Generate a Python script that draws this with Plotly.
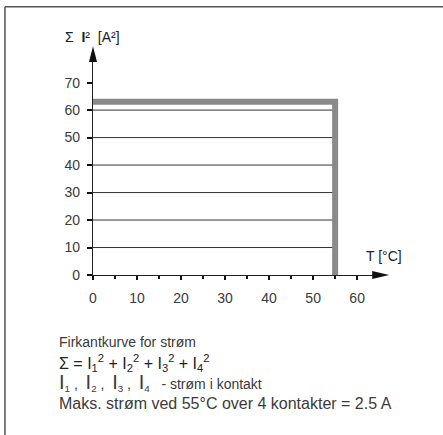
import plotly.graph_objects as go

# ---- data ----
curve_T = [0, 55, 55]          # temperature [°C]
curve_I2 = [63, 63, 0]         # Σ I² [A²]
grid_levels = [10, 20, 30, 40, 50, 60]
grid_end_T = 55
x_ticks = [0, 10, 20, 30, 40, 50, 60]
y_ticks = [0, 10, 20, 30, 40, 50, 60, 70]
x_axis_title = "T [°C]"
y_axis_title = "Σ  <b>I</b>²  [A²]"
BIG_I = '<span style="font-size:20px">I</span>'
notes = [
    "Firkantkurve for strøm",
    "Σ = I<sub>1</sub><sup>2</sup> + I<sub>2</sub><sup>2</sup> + I<sub>3</sub><sup>2</sup> + I<sub>4</sub><sup>2</sup>",
    f"{BIG_I}<sub>1</sub> ,  {BIG_I}<sub>2</sub> ,  {BIG_I}<sub>3</sub> ,  {BIG_I}<sub>4</sub>   - strøm i kontakt",
    "Maks. strøm ved 55°C over 4 kontakter = 2.5 A",
]

# ---- layout geometry (pixels) ----
FW, FH = 443, 435
L, B = 93, 160
XMAX, YMAX = 63.6, 77.5
PX_PER_X, PX_PER_Y = 4.4, 2.75
W = XMAX * PX_PER_X
H = YMAX * PX_PER_Y
R = FW - L - W
T = FH - B - H

def px(xp):
    return (xp - L) / W

def py(yp):
    return (FH - B - yp) / H

FONT = "Liberation Sans, Arial, sans-serif"
TXT = "#3a3a3a"

fig = go.Figure()

# grid lines
gx, gy = [], []
for g in grid_levels:
    gx += [0, grid_end_T, None]
    gy += [g, g, None]
fig.add_trace(go.Scatter(x=gx, y=gy, mode="lines",
                         line=dict(color="#333333", width=1),
                         hoverinfo="skip", showlegend=False))

# square curve
fig.add_trace(go.Scatter(x=curve_T, y=curve_I2, mode="lines",
                         line=dict(color="#8a8a8a", width=6),
                         hoverinfo="skip", showlegend=False, cliponaxis=False))

axis_common = dict(showgrid=False, zeroline=False, showline=True,
                   linecolor="#222222", linewidth=1.3,
                   ticks="outside", tickcolor="#111111", tickwidth=2,
                   tickfont=dict(family=FONT, size=14, color=TXT))

fig.update_xaxes(range=[0, XMAX], tickvals=x_ticks, ticklen=4,
                 minor=dict(dtick=5, tick0=0, ticks="outside", ticklen=3,
                            tickwidth=2, tickcolor="#111111", showgrid=False),
                 ticklabelstandoff=6, **axis_common)
fig.update_yaxes(range=[0, YMAX], tickvals=y_ticks, ticklen=5,
                 ticklabelstandoff=4, **axis_common)

shapes = []
# arrow heads
shapes.append(dict(type="path", xref="paper", yref="paper",
                   path=f"M {px(89)} {py(62)} L {px(93)} {py(46)} L {px(97)} {py(62)} Z",
                   fillcolor="#111111", line=dict(width=0)))
shapes.append(dict(type="path", xref="paper", yref="paper",
                   path=f"M {px(372)} {py(271)} L {px(389)} {py(275)} L {px(372)} {py(279)} Z",
                   fillcolor="#111111", line=dict(width=0)))
# frame (top and left edges)
shapes.append(dict(type="line", xref="paper", yref="paper",
                   x0=px(5), y0=py(6.5), x1=px(450), y1=py(6.5),
                   line=dict(color="#555555", width=1.5)))
shapes.append(dict(type="line", xref="paper", yref="paper",
                   x0=px(5), y0=py(6.5), x1=px(5), y1=py(445),
                   line=dict(color="#555555", width=1.5)))

annotations = [
    dict(text=y_axis_title, x=px(63), y=py(37), xref="paper", yref="paper",
         xanchor="left", yanchor="middle", showarrow=False,
         font=dict(family=FONT, size=14, color="#222222")),
    dict(text=x_axis_title, x=px(364), y=py(256), xref="paper", yref="paper",
         xanchor="left", yanchor="middle", showarrow=False,
         font=dict(family=FONT, size=14, color="#222222")),
]
note_y = [342, 363, 383, 404]
note_size = [14, 16, 14, 16]
note_color = [TXT, "#222222", TXT, TXT]
for txt, yy, sz, col in zip(notes, note_y, note_size, note_color):
    annotations.append(dict(text=txt, x=px(57), y=py(yy), xref="paper", yref="paper",
                            xanchor="left", yanchor="middle", showarrow=False,
                            font=dict(family=FONT, size=sz, color=col)))

fig.update_layout(width=FW, height=FH,
                  margin=dict(l=L, r=R, t=T, b=B, pad=0),
                  paper_bgcolor="white", plot_bgcolor="white",
                  shapes=shapes, annotations=annotations, showlegend=False)

fig.write_html("out.html",
               config={"displayModeBar": False},
               post_script="document.body.style.margin='0px';document.body.style.overflow='hidden';")
